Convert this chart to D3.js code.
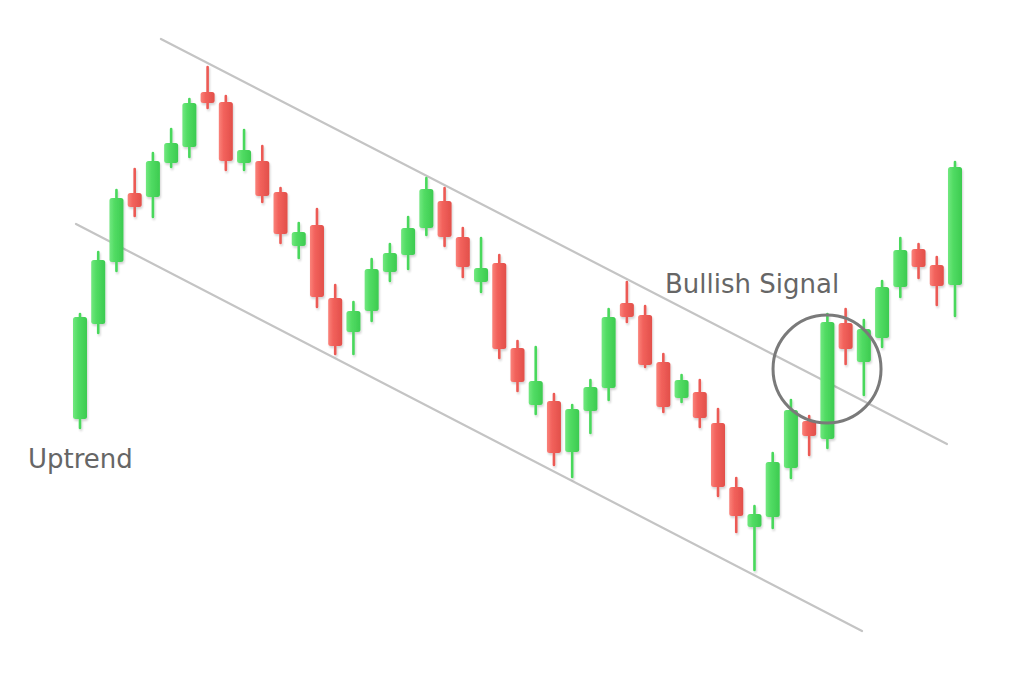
<!DOCTYPE html>
<html>
<head>
<meta charset="utf-8">
<script src="https://cdn.jsdelivr.net/npm/d3@7"></script>
<style>
html,body{margin:0;padding:0;background:#fff;}
svg{display:block;}
</style>
</head>
<body>
<script>
// ---- data (price units) ----
const openP  = [281,376,438,507,503,537,553,608,598,537,539,508,454,475,402,368,389,428,445,472,499,463,418,437,352,295,299,248,289,312,397,385,338,302,308,277,213,173,183,232,279,261,377,338,362,413,451,435,415];
const highP  = [386,448,510,531,547,571,601,633,604,570,554,512,477,491,415,398,441,456,483,522,512,472,462,445,359,353,306,295,320,391,418,394,346,325,320,291,222,194,247,300,284,386,391,380,419,462,456,443,538];
const lowP   = [272,367,429,484,483,533,543,592,530,530,498,457,442,393,346,346,379,419,431,465,454,423,408,342,309,286,235,223,267,300,378,333,288,298,273,204,168,130,172,222,245,252,336,305,353,403,422,395,384];
const closeP = [383,440,502,493,539,557,597,597,539,550,504,466,468,403,354,389,431,447,472,511,463,433,432,351,318,319,247,291,313,383,383,335,293,320,282,213,184,186,238,290,264,378,351,371,413,450,433,414,533];
// channel lines: [index, price] endpoints
const upperLine = [[4.44,661],[47.56,256]];
const lowerLine = [[-0.22,476],[42.9,69]];
const signalPoint = [40.98,331];
const labels = ["Uptrend","Bullish Signal"];

const W = 1024, H = 683;
const svg = d3.select("body").append("svg").attr("width",W).attr("height",H);
const x = d3.scaleLinear().domain([0,48]).range([80,955]);
const y = d3.scaleLinear().domain([0,700]).range([700,0]);

const defs = svg.append("defs");
function grad(id, stops){
  const g = defs.append("linearGradient").attr("id",id).attr("x1","0%").attr("x2","100%").attr("y1","0%").attr("y2","0%");
  stops.forEach(s=>g.append("stop").attr("offset",s[0]).attr("stop-color",s[1]));
}
grad("gUp",[["0%","#72e880"],["35%","#52dc64"],["100%","#3ccb50"]]);
grad("gDn",[["0%","#fa827a"],["35%","#f2625c"],["100%","#e24f4a"]]);
const f = defs.append("filter").attr("id","sh").attr("x","-50%").attr("y","-50%").attr("width","200%").attr("height","200%");
f.append("feGaussianBlur").attr("in","SourceAlpha").attr("stdDeviation",1.2).attr("result","b");
f.append("feOffset").attr("dx",1).attr("dy",1.5).attr("result","o");
f.append("feComponentTransfer").append("feFuncA").attr("type","linear").attr("slope",0.18);
const m = f.append("feMerge"); m.append("feMergeNode"); m.append("feMergeNode").attr("in","SourceGraphic");

// channel lines
const line = d3.line().x(d=>x(d[0])).y(d=>y(d[1]));
[upperLine, lowerLine].forEach(l=>{
  svg.append("path").attr("d",line(l)).attr("stroke","#c4c4c4").attr("stroke-width",2.2).attr("fill","none").attr("stroke-linecap","round");
});

const data = openP.map((o,i)=>({i, o, h:highP[i], l:lowP[i], c:closeP[i], up: closeP[i]>=o}));
const bw = 14;
const g = svg.append("g").attr("filter","url(#sh)");
g.selectAll("line.wick").data(data).join("line")
  .attr("x1",d=>x(d.i)).attr("x2",d=>x(d.i))
  .attr("y1",d=>y(d.h)).attr("y2",d=>y(d.l))
  .attr("stroke",d=>d.up?"#48d85b":"#ec5a54").attr("stroke-width",2.6).attr("stroke-linecap","round");
g.selectAll("rect.body").data(data).join("rect")
  .attr("x",d=>x(d.i)-bw/2).attr("width",bw)
  .attr("y",d=>y(Math.max(d.o,d.c)))
  .attr("height",d=>Math.max(2,Math.abs(y(d.o)-y(d.c))))
  .attr("rx",2.5).attr("ry",2.5)
  .attr("fill",d=>d.up?"url(#gUp)":"url(#gDn)");

// signal circle
svg.append("circle").attr("cx",x(signalPoint[0])).attr("cy",y(signalPoint[1])).attr("r",54)
  .attr("fill","none").attr("stroke","#7a7a7a").attr("stroke-width",3);

svg.append("text").attr("x",28).attr("y",468).text(labels[0])
  .attr("font-family","DejaVu Sans").attr("font-size",26).attr("fill","#666");
svg.append("text").attr("x",665).attr("y",293).text(labels[1])
  .attr("font-family","DejaVu Sans").attr("font-size",26).attr("fill","#666");
</script>
</body>
</html>
